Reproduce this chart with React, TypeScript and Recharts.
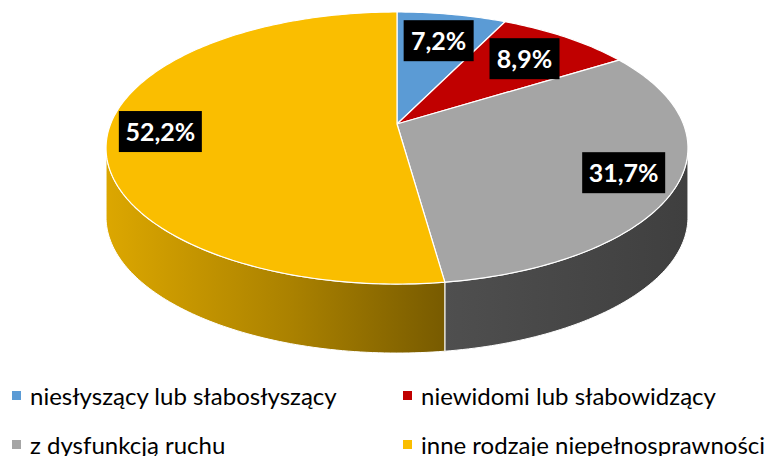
import { PieChart, Pie, Cell, Legend } from 'recharts';

const categories = [
  'niesłyszący lub słabosłyszący',
  'niewidomi lub słabowidzący',
  'z dysfunkcją ruchu',
  'inne rodzaje niepełnosprawności',
];
const shares = [7.2, 8.9, 31.7, 52.2];
const colors = ['#5B9BD5', '#C00000', '#A5A5A5', '#FABE00'];

const data = categories.map((name, i) => ({ name, value: shares[i] }));

// tilted disc seen in perspective
const CX = 397;
const CY = 124;
const RX = 286.4;
const RY = 131.8;
const K = 0.1765;
const DEPTH = 69;
const T_RIGHT = Math.acos(-K);
const T_LEFT = 2 * Math.PI - T_RIGHT;

const proj = (cx: number, cy: number, t: number, r = 1): [number, number] => {
  const u = r * Math.sin(t);
  const v = r * Math.cos(t);
  const d = 1 + K * v;
  return [cx + (RX * u) / d, cy - (RY * v) / d];
};

const arc = (cx: number, cy: number, a: number, b: number) => {
  const n = Math.max(2, Math.ceil(Math.abs(b - a) / (Math.PI / 180)));
  const pts: [number, number][] = [];
  for (let i = 0; i <= n; i++) pts.push(proj(cx, cy, a + ((b - a) * i) / n));
  return pts;
};

const shade = (hex: string, f: number) => {
  const n = parseInt(hex.slice(1), 16);
  const r = Math.round(((n >> 16) & 255) * f);
  const g = Math.round(((n >> 8) & 255) * f);
  const b = Math.round((n & 255) * f);
  return `rgb(${r},${g},${b})`;
};

const toT = (deg: number) => ((90 - deg) * Math.PI) / 180;

function Slice3D(props: any) {
  const { cx, cy, startAngle, endAngle, fill } = props;
  const t1 = toT(startAngle);
  const t2 = toT(endAngle);
  const idx = Math.max(0, colors.indexOf(fill));
  const rim = arc(cx, cy, t1, t2);
  const top = `M${cx},${cy}` + rim.map(([x, y]) => `L${x},${y}`).join('') + 'Z';

  let side = '';
  const a = Math.max(t1, T_RIGHT);
  const b = Math.min(t2, T_LEFT);
  if (a < b) {
    const pts = arc(cx, cy, a, b);
    side =
      pts.map(([x, y], i) => `${i ? 'L' : 'M'}${x},${y}`).join('') +
      pts
        .slice()
        .reverse()
        .map(([x, y]) => `L${x},${y + DEPTH}`)
        .join('') +
      'Z';
  }

  return (
    <g>
      {side && <path d={side} fill={`url(#side-${idx})`} stroke="#fff" strokeWidth={1} strokeLinejoin="round" />}
      <path d={top} fill={fill} stroke="#fff" strokeWidth={1.2} strokeLinejoin="round" />
    </g>
  );
}

const renderLabel = (p: any) => {
  const t = toT(p.midAngle);
  const r = p.percent < 0.1 ? 0.73 : 0.82;
  const [x, y] = proj(p.cx, p.cy, t, r);
  const txt = `${Number(p.value).toFixed(1).replace('.', ',')}%`;
  const w = 18 + 13 * txt.length;
  return (
    <g>
      <rect x={x - w / 2} y={y - 20.5} width={w} height={41} fill="#000" />
      <text
        x={x}
        y={y}
        dy="0.36em"
        textAnchor="middle"
        fill="#fff"
        fontFamily="Lato"
        fontWeight="bold"
        fontSize={25}
      >
        {txt}
      </text>
    </g>
  );
};

const renderLegend = (props: any) => {
  const items = [...(props.payload || [])].sort(
    (p: any, q: any) => categories.indexOf(p.value) - categories.indexOf(q.value),
  );
  return (
    <div style={{ display: 'grid', gridTemplateColumns: '391px 389px' }}>
      {items.map((entry: any, i: number) => (
        <div key={`leg-${i}`} style={{ display: 'flex', alignItems: 'center', height: 49 }}>
          <span style={{ width: 9, height: 9, background: entry.color, marginLeft: 12, marginRight: 9, flex: 'none' }} />
          <span style={{ fontFamily: 'Lato', fontSize: 24, color: '#000', whiteSpace: 'nowrap' }}>{entry.value}</span>
        </div>
      ))}
    </div>
  );
};

export default function App() {
  const x0 = CX - RX * 1.016;
  const x1 = CX + RX * 1.016;
  return (
    <div style={{ position: 'absolute', left: 0, top: 0, background: '#fff' }}>
      <PieChart width={780} height={456} margin={{ top: 0, right: 0, bottom: 0, left: 0 }}>
        <defs>
          {colors.map((c, i) => (
            <linearGradient key={`g-${i}`} id={`side-${i}`} gradientUnits="userSpaceOnUse" x1={x0} y1={0} x2={x1} y2={0}>
              <stop offset="0" stopColor={shade(c, 0.88)} />
              <stop offset="0.32" stopColor={shade(c, 0.68)} />
              <stop offset="0.58" stopColor={shade(c, 0.48)} />
              <stop offset="1" stopColor={shade(c, 0.38)} />
            </linearGradient>
          ))}
        </defs>
        <Pie
          data={data}
          dataKey="value"
          nameKey="name"
          cx={CX}
          cy={CY}
          outerRadius={130}
          startAngle={90}
          endAngle={-270}
          stroke="none"
          shape={Slice3D}
          inactiveShape={Slice3D}
          activeShape={Slice3D}
          label={renderLabel}
          labelLine={false}
          isAnimationActive={false}
        >
          {data.map((_, i) => (
            <Cell key={`cell-${i}`} fill={colors[i]} />
          ))}
        </Pie>
        <Legend content={renderLegend} wrapperStyle={{ top: 371, left: 0, width: 780 }} />
      </PieChart>
    </div>
  );
}
